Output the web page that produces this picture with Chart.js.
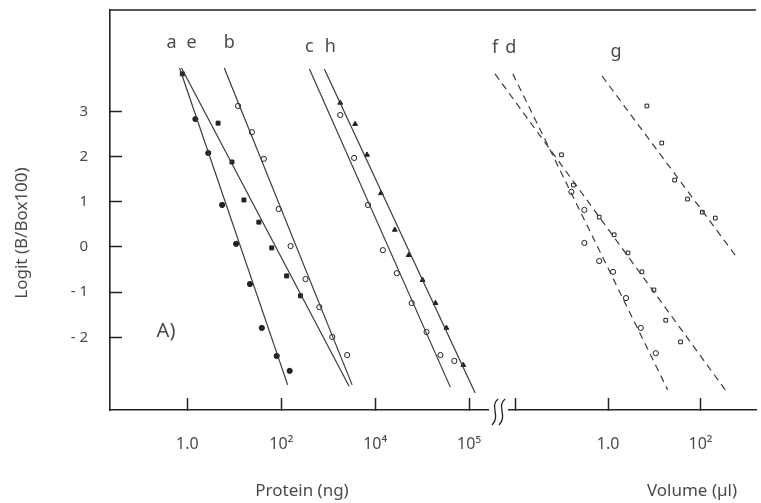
<!DOCTYPE html>
<html>
<head>
<meta charset="utf-8">
<script src="https://cdn.jsdelivr.net/npm/chart.js@4.4.1/dist/chart.umd.min.js"></script>
<style>
  body { margin: 0; background: #fff; }
  canvas { display: block; }
</style>
</head>
<body>
<canvas id="chart" width="761" height="503"></canvas>
<script>
// measured points, protein in ng, volume in ul, y = logit(B/Bo x 100)
const aProtein = [1.48, 2.78, 5.5, 10.9, 21.5, 38.5, 80, 151];
const aLogit   = [2.83, 2.08, 0.93, 0.07, -0.82, -1.79, -2.41, -2.74];
const eProtein = [0.78, 4.5, 8.9, 16.0, 33.3, 62.7, 130, 257];
const eLogit   = [3.83, 2.74, 1.88, 1.04, 0.55, -0.02, -0.64, -1.08];
const bProtein = [12.0, 23.7, 42.5, 88, 158, 328, 649, 1222, 2535];
const bLogit   = [3.12, 2.54, 1.95, 0.84, 0.02, -0.71, -1.33, -1.99, -2.39];
const cProtein = [1803, 3565, 7045, 14620, 28900, 59950, 124500, 246000, 486000];
const cLogit   = [2.92, 1.97, 0.93, -0.07, -0.58, -1.24, -1.88, -2.39, -2.52];
const hProtein = [1803, 3740, 6710, 13270, 26240, 51850, 102500, 192800, 329600, 754000];
const hLogit   = [3.19, 2.72, 2.04, 1.19, 0.38, -0.18, -0.73, -1.24, -1.79, -2.61];
const fVolume  = [0.0975, 0.177, 0.64, 1.35, 2.69, 5.4, 9.8, 17.7, 37.1];
const fLogit   = [2.04, 1.37, 0.66, 0.27, -0.13, -0.55, -0.95, -1.62, -2.10];
const dVolume  = [0.16, 0.305, 0.305, 0.64, 1.28, 2.44, 5.1, 10.8];
const dLogit   = [1.22, 0.82, 0.09, -0.31, -0.55, -1.13, -1.79, -2.35];
const gVolume  = [6.9, 14.5, 27.6, 52.5, 110, 210];
const gLogit   = [3.12, 2.30, 1.48, 1.06, 0.77, 0.64];

// fitted lines, start and end
const aFitProtein = [0.68, 137];    const aFitLogit = [3.96, -3.05];
const eFitProtein = [0.75, 2790];   const eFitLogit = [3.96, -3.08];
const bFitProtein = [6.1, 3235];    const bFitLogit = [3.96, -3.05];
const cFitProtein = [398, 400000];  const cFitLogit = [3.94, -3.10];
const hFitProtein = [827, 1350000]; const hFitLogit = [3.94, -3.23];
const fFitVolume = [0.00353, 345];  const fFitLogit = [3.83, -3.16];
const dFitVolume = [0.0086, 19.5];  const dFitLogit = [3.83, -3.16];
const gFitVolume = [0.74, 566];     const gFitLogit = [3.78, -0.18];

// axis ticks
const proteinTicks = [1, 100, 1e4, 1e6];
const proteinTickLabels = ['1.0', '10²', '10⁴', '10⁵'];
const volumeTicks = [0.01, 1, 100];
const volumeTickLabels = ['', '1.0', '10²'];
const logitTicks = [3, 2, 1, 0, -1, -2];
const logitTickLabels = ['3', '2', '1', '0', '- 1', '- 2'];

// protein and volume decades share one linear axis, split by a break
const VOL_ORIGIN = 8.964;
const VOL_DECADE = 0.983;
const BREAK_AT = 6.64;

function protX(ng) { return Math.log10(ng); }
function volX(ul) { return VOL_ORIGIN + VOL_DECADE * Math.log10(ul); }

function pts(xs, ys, toX) {
    return xs.map((v, i) => ({ x: toX(v), y: ys[i] }));
}

const INK = '#222';
const LINE = '#3a3a3a';
const FONT = '"Noto Sans", "DejaVu Sans", sans-serif';
const TEXT = '#4a4a4a';

function fit(name, xs, ys, toX, dashed) {
    return {
        type: 'line', label: name, data: pts(xs, ys, toX),
        borderColor: LINE, borderWidth: 1.2, borderDash: dashed ? [7, 5] : [],
        pointRadius: 0, showLine: true, fill: false
    };
}

function marks(name, xs, ys, toX, style, filled, r) {
    return {
        type: 'scatter', label: name, data: pts(xs, ys, toX),
        pointStyle: style, pointRadius: r,
        backgroundColor: filled ? INK : '#fff', borderColor: INK, borderWidth: 1
    };
}

const datasets = [
    fit('a', aFitProtein, aFitLogit, protX, false),
    fit('e', eFitProtein, eFitLogit, protX, false),
    fit('b', bFitProtein, bFitLogit, protX, false),
    fit('c', cFitProtein, cFitLogit, protX, false),
    fit('h', hFitProtein, hFitLogit, protX, false),
    fit('f', fFitVolume, fFitLogit, volX, true),
    fit('d', dFitVolume, dFitLogit, volX, true),
    fit('g', gFitVolume, gFitLogit, volX, true),
    marks('a pts', aProtein, aLogit, protX, 'circle', true, 2.6),
    marks('e pts', eProtein, eLogit, protX, 'rect', true, 2.8),
    marks('b pts', bProtein, bLogit, protX, 'circle', false, 2.6),
    marks('c pts', cProtein, cLogit, protX, 'circle', false, 2.6),
    marks('h pts', hProtein, hLogit, protX, 'triangle', true, 2.8),
    marks('f pts', fVolume, fLogit, volX, 'rect', false, 2.6),
    marks('d pts', dVolume, dLogit, volX, 'circle', false, 2.6),
    marks('g pts', gVolume, gLogit, volX, 'rect', false, 2.6)
];

const xTickValues = proteinTicks.map(protX).concat(volumeTicks.map(volX));
const xTickLabels = proteinTickLabels.concat(volumeTickLabels);

// letters over the line tops: [index of fit dataset, dx, y]
const lineLabels = [[0, -8, 43], [1, 10, 43], [2, 5, 43], [3, 0, 47],
                    [4, 6, 47], [5, 0, 48], [6, -2, 48], [7, 14, 52]];

const decorations = {
    id: 'decorations',
    afterDraw(chart) {
        const ctx = chart.ctx;
        const area = chart.chartArea;
        const xs = chart.scales.x;
        ctx.save();
        ctx.setLineDash([]);

        // top frame line
        ctx.strokeStyle = INK;
        ctx.lineWidth = 1.6;
        ctx.beginPath();
        ctx.moveTo(area.left, area.top);
        ctx.lineTo(area.right, area.top);
        ctx.stroke();

        // axis break
        const bx = xs.getPixelForValue(BREAK_AT);
        ctx.fillStyle = '#fff';
        ctx.fillRect(bx - 10, area.bottom - 3, 19, 6);
        ctx.lineWidth = 1.3;
        [bx - 4, bx + 3].forEach(cx => {
            ctx.beginPath();
            ctx.moveTo(cx + 3, area.bottom - 11);
            ctx.bezierCurveTo(cx - 6, area.bottom - 4, cx + 6, area.bottom + 6, cx - 3, area.bottom + 15);
            ctx.stroke();
        });

        // line letters
        ctx.fillStyle = TEXT;
        ctx.textAlign = 'center';
        ctx.textBaseline = 'middle';
        ctx.font = '18px ' + FONT;
        lineLabels.forEach(([i, dx, y]) => {
            const ds = chart.data.datasets[i];
            const px = xs.getPixelForValue(ds.data[0].x) + dx;
            ctx.fillText(ds.label, px, y);
        });

        ctx.font = '20px ' + FONT;
        ctx.fillText('A)', 166, 331);

        // axis titles
        ctx.font = '17px ' + FONT;
        ctx.fillText('Protein (ng)', 302, 491);
        ctx.fillText('Volume (\u00b5l)', 692, 491);
        ctx.translate(22, 233);
        ctx.rotate(-Math.PI / 2);
        ctx.fillText('Logit (B/Box100)', 0, 0);

        ctx.restore();
    }
};

// negative tick length puts the tick marks inside the frame
const inwardTicks = {
    drawOnChartArea: false, drawTicks: true,
    tickLength: -12, tickWidth: 1.5, tickColor: INK, color: INK
};

new Chart(document.getElementById('chart'), {
    type: 'scatter',
    data: { datasets: datasets },
    options: {
        responsive: false,
        animation: false,
        layout: { padding: { top: 10, right: 0, left: 0, bottom: 0 } },
        plugins: { legend: { display: false }, tooltip: { enabled: false } },
        scales: {
            x: {
                type: 'linear',
                min: -1.649,
                max: 12.114,
                afterFit: s => { s.height = 93; s.paddingLeft = 0; s.paddingRight = 0; },
                afterBuildTicks: s => { s.ticks = xTickValues.map(v => ({ value: v })); },
                grid: inwardTicks,
                border: { display: true, color: INK, width: 1.6 },
                ticks: {
                    autoSkip: false, maxRotation: 0, padding: 37,
                    color: TEXT, font: { family: FONT, size: 16 },
                    callback: (v, i) => xTickLabels[i]
                }
            },
            y: {
                type: 'linear',
                min: -3.606,
                max: 5.243,
                afterFit: s => { s.width = 110; s.paddingTop = 0; s.paddingBottom = 0; },
                afterBuildTicks: s => { s.ticks = logitTicks.map(v => ({ value: v })); },
                grid: inwardTicks,
                border: { display: true, color: INK, width: 1.6 },
                ticks: {
                    padding: 34,
                    color: TEXT, font: { family: FONT, size: 15 },
                    callback: (v, i) => logitTickLabels[i]
                }
            }
        }
    },
    plugins: [decorations]
});
</script>
</body>
</html>
